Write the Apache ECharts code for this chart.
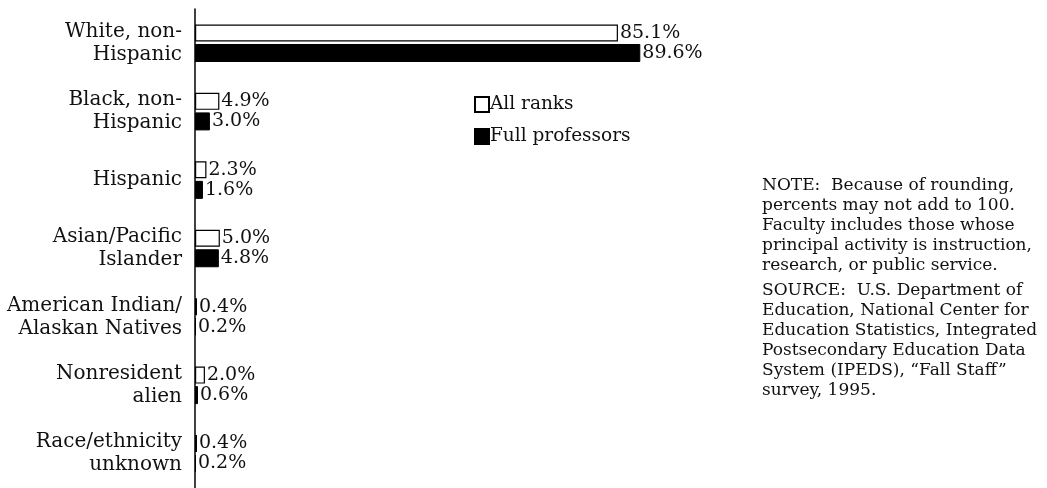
<!DOCTYPE html>
<html>
<head>
<meta charset="utf-8">
<script src="https://cdn.jsdelivr.net/npm/echarts@6/dist/echarts.min.js"></script>
<style>html,body{margin:0;padding:0;background:#fff;}#c{width:1047px;height:488px;}</style>
</head>
<body>
<div id="c"></div>
<script>
const categories = [
  "White, non-\nHispanic",
  "Black, non-\nHispanic",
  "Hispanic",
  "Asian/Pacific\nIslander",
  "American Indian/\nAlaskan Natives",
  "Nonresident\nalien",
  "Race/ethnicity\nunknown"
];
const allRanks = [85.1, 4.9, 2.3, 5.0, 0.4, 2.0, 0.4];
const fullProfessors = [89.6, 3.0, 1.6, 4.8, 0.2, 0.6, 0.2];
const seriesNames = ["All ranks", "Full professors"];
const noteLines = [
  "NOTE:  Because of rounding,",
  "percents may not add to 100.",
  "Faculty includes those whose",
  "principal activity is instruction,",
  "research, or public service."
];
const sourceLines = [
  "SOURCE:  U.S. Department of",
  "Education, National Center for",
  "Education Statistics, Integrated",
  "Postsecondary Education Data",
  "System (IPEDS), \u201cFall Staff\u201d",
  "survey, 1995."
];

const FONT = "'DejaVu Serif', 'Liberation Serif', serif";
const chart = echarts.init(document.getElementById('c'));
const labelStyle = {
  show: true,
  position: 'right',
  distance: 2,
  formatter: p => p.value.toFixed(1) + '%',
  fontFamily: FONT,
  fontSize: 19,
  color: '#111'
};
chart.setOption({
  animation: false,
  backgroundColor: '#fff',
  grid: { left: 195, top: 9, width: 497, height: 482, containLabel: false },
  xAxis: {
    type: 'value', min: 0, max: 100, show: false
  },
  yAxis: {
    type: 'category',
    data: categories,
    inverse: true,
    axisLine: { show: true, lineStyle: { color: '#000', width: 1.5 } },
    axisTick: { show: false },
    axisLabel: {
      fontFamily: FONT, fontSize: 20, color: '#111', lineHeight: 23,
      margin: 13, align: 'right'
    },
    splitLine: { show: false }
  },
  legend: {
    orient: 'vertical',
    left: 469, top: 90,
    itemWidth: 14, itemHeight: 15, itemGap: 13,
    icon: 'rect',
    textStyle: { fontFamily: FONT, fontSize: 18.5, color: '#111', padding: [0,0,0,-4] },
    data: seriesNames
  },
  series: [
    {
      name: seriesNames[0], type: 'bar', data: allRanks,
      barWidth: 17, barGap: '15%',
      itemStyle: { color: '#fff', borderColor: '#000', borderWidth: 1.2 },
      label: labelStyle
    },
    {
      name: seriesNames[1], type: 'bar', data: fullProfessors,
      barWidth: 18,
      itemStyle: { color: '#000', borderColor: '#000', borderWidth: 1 },
      label: labelStyle
    }
  ],
  graphic: [
    { type: 'text', left: 762, top: 176,
      style: { text: noteLines.join('\n'), fontFamily: FONT, fontSize: 17, lineHeight: 20, fill: '#111' } },
    { type: 'text', left: 762, top: 281,
      style: { text: sourceLines.join('\n'), fontFamily: FONT, fontSize: 17, lineHeight: 20, fill: '#111' } }
  ]
});
</script>
</body>
</html>
